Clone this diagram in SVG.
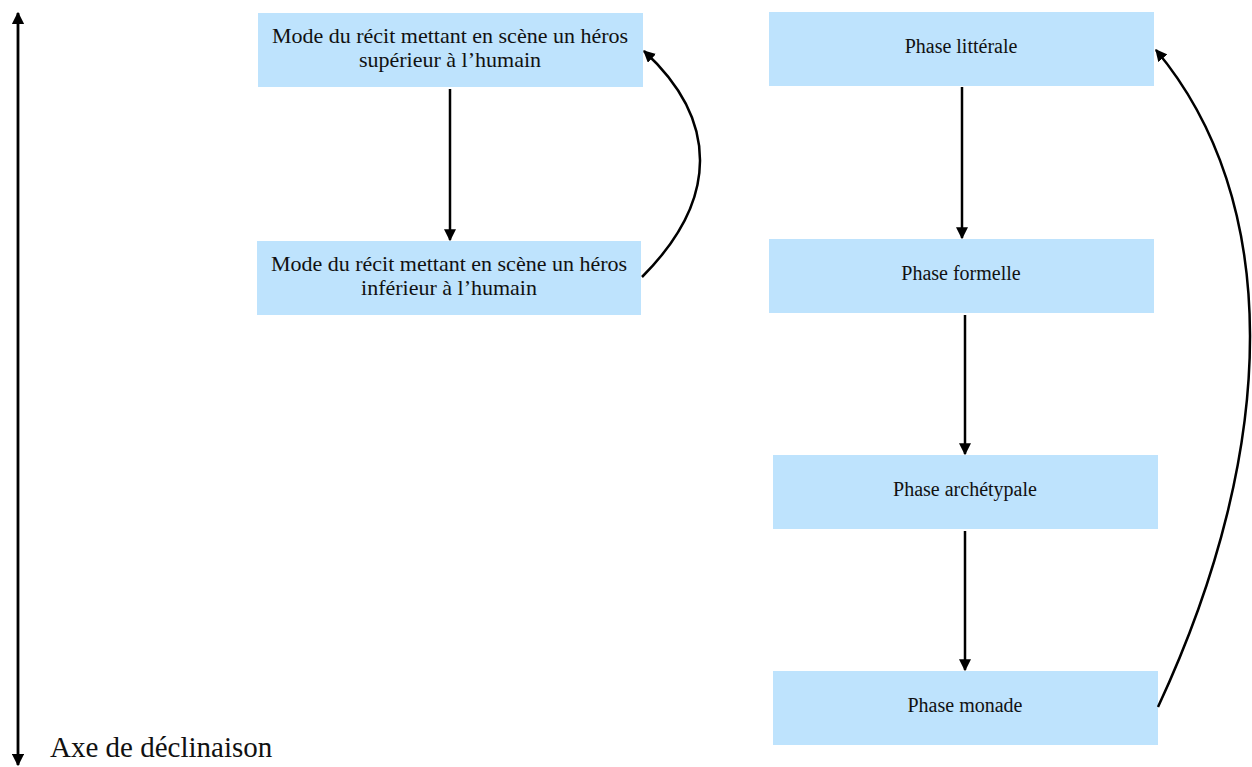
<svg xmlns="http://www.w3.org/2000/svg" width="1252" height="767" viewBox="0 0 1252 767">
  <style>
    .box { fill: #BEE3FD; }
    .lbl { font-family: "Liberation Serif", "Times New Roman", serif; font-size: 22px; fill: #111; text-anchor: middle; }
    .ph { font-size: 20px; }
    .axis-lbl { font-family: "Liberation Serif", "Times New Roman", serif; font-size: 29px; fill: #111; }
    .conn { stroke: #000; stroke-width: 2.5; fill: none; }
  </style>
  <defs>
    <marker id="arr" viewBox="0 0 10 10" refX="9" refY="5" markerWidth="4.8" markerHeight="4.8" markerUnits="strokeWidth" orient="auto">
      <path d="M0,0 L10,5 L0,10 z" fill="#000"/>
    </marker>
    <marker id="arrAxis" viewBox="0 0 10 10" refX="9" refY="5" markerWidth="4.5" markerHeight="4.5" markerUnits="strokeWidth" orient="auto-start-reverse">
      <path d="M0,0 L10,5 L0,10 z" fill="#000"/>
    </marker>
  </defs>

  <g id="axis">
    <line x1="18" y1="13" x2="18" y2="765" stroke="#000" stroke-width="2.8" marker-start="url(#arrAxis)" marker-end="url(#arrAxis)"/>
    <text class="axis-lbl" x="50" y="757">Axe de déclinaison</text>
  </g>

  <g id="node-superieur">
    <rect class="box" x="258" y="13" width="385" height="74"/>
    <text class="lbl" x="450" y="43">Mode du récit mettant en scène un héros</text>
    <text class="lbl" x="450" y="67">supérieur à l’humain</text>
  </g>
  <g id="node-inferieur">
    <rect class="box" x="257" y="241" width="384" height="74"/>
    <text class="lbl" x="449" y="271">Mode du récit mettant en scène un héros</text>
    <text class="lbl" x="449" y="295">inférieur à l’humain</text>
  </g>
  <g id="node-litterale">
    <rect class="box" x="769" y="12" width="385" height="74"/>
    <text class="lbl ph" x="961" y="53">Phase littérale</text>
  </g>
  <g id="node-formelle">
    <rect class="box" x="769" y="239" width="385" height="74"/>
    <text class="lbl ph" x="961" y="280">Phase formelle</text>
  </g>
  <g id="node-archetypale">
    <rect class="box" x="773" y="455" width="385" height="74"/>
    <text class="lbl ph" x="965" y="496">Phase archétypale</text>
  </g>
  <g id="node-monade">
    <rect class="box" x="773" y="671" width="385" height="74"/>
    <text class="lbl ph" x="965" y="712">Phase monade</text>
  </g>

  <g id="connectors">
    <line class="conn" x1="450" y1="89" x2="450" y2="240" marker-end="url(#arr)"/>
    <line class="conn" x1="962" y1="87" x2="962" y2="238" marker-end="url(#arr)"/>
    <line class="conn" x1="965" y1="315" x2="965" y2="454" marker-end="url(#arr)"/>
    <line class="conn" x1="965" y1="531" x2="965" y2="670" marker-end="url(#arr)"/>
    <path class="conn" d="M642,277 C719,200 719,120 644,51" marker-end="url(#arr)"/>
    <path class="conn" d="M1158,707 C1281,443 1281,199 1156,50" marker-end="url(#arr)"/>
  </g>
</svg>
